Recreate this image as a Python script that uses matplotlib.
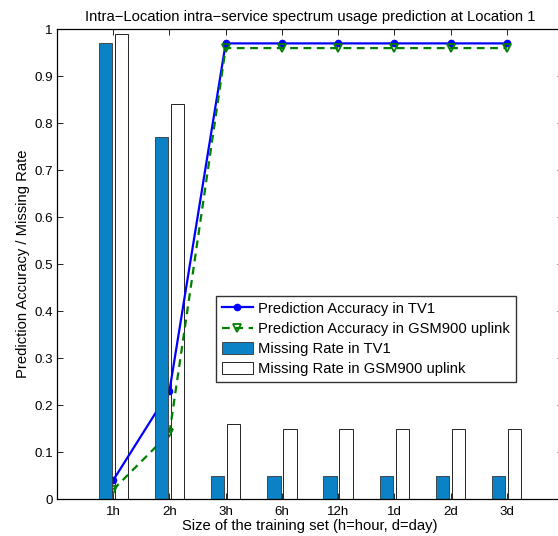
import matplotlib
matplotlib.use("Agg")
import matplotlib.pyplot as plt
import numpy as np

plt.rcParams['font.family'] = ['Liberation Sans', 'DejaVu Sans']

categories = ['1h', '2h', '3h', '6h', '12h', '1d', '2d', '3d']
acc_tv1 = [0.04, 0.23, 0.97, 0.97, 0.97, 0.97, 0.97, 0.97]
acc_gsm = [0.02, 0.14, 0.96, 0.96, 0.96, 0.96, 0.96, 0.96]
miss_tv1 = [0.97, 0.77, 0.05, 0.05, 0.05, 0.05, 0.05, 0.05]
miss_gsm = [0.99, 0.84, 0.16, 0.15, 0.15, 0.15, 0.15, 0.15]
yticks = [0, 0.1, 0.2, 0.3, 0.4, 0.5, 0.6, 0.7, 0.8, 0.9, 1]
ytick_labels = ['0', '0.1', '0.2', '0.3', '0.4', '0.5', '0.6', '0.7', '0.8', '0.9', '1']

FS = 10.6
TFS = 9.6
W, H = 558, 536
fig = plt.figure(figsize=(W / 100, H / 100), dpi=100)
left, right, top, bottom = 57, 563, 29.3, 499
ax = fig.add_axes([left / W, (H - bottom) / H, (right - left) / W, (bottom - top) / H])

x = np.arange(1, len(categories) + 1)
bw = 0.238
off = 0.142

b2 = ax.bar(x + off, miss_gsm, width=bw, color='white', edgecolor='black',
            linewidth=0.6, zorder=1, label='Missing Rate in GSM900 uplink')
l1, = ax.plot(x, acc_tv1, '-', color='#0000ff', lw=1.6, marker='o', ms=4.5,
              mfc='#0000ff', mec='#0000ff', zorder=2, label='Prediction Accuracy in TV1')
l2, = ax.plot(x, acc_gsm, '--', color='#008000', lw=1.6, marker='v', ms=5.5,
              mfc='none', mec='#008000', mew=1.3, dashes=(3.5, 2.5), zorder=2,
              label='Prediction Accuracy in GSM900 uplink')
b1 = ax.bar(x - off, miss_tv1, width=bw, color='#0b82c6', edgecolor='#333333',
            linewidth=0.6, zorder=3, label='Missing Rate in TV1')

ax.set_xlim(0, 9)
ax.set_ylim(0, 1)
ax.set_xticks(x)
ax.set_xticklabels(categories)
ax.set_yticks(yticks)
ax.set_yticklabels(ytick_labels)
ax.tick_params(direction='in', length=4, width=0.6, top=True, right=True,
               labelsize=TFS, colors='black')
ax.tick_params(axis='x', pad=5)
ax.tick_params(axis='y', pad=3)
for s in ax.spines.values():
    s.set_linewidth(0.9)
    s.set_zorder(5)

ax.set_title('Intra\u2212Location intra\u2212service spectrum usage prediction at Location 1',
             fontsize=FS, pad=6)
ax.set_xlabel('Size of the training set (h=hour, d=day)', fontsize=FS, labelpad=1)
ax.set_ylabel('Prediction Accuracy / Missing Rate', fontsize=FS, labelpad=3)

leg = ax.legend(handles=[l1, l2, b1, b2], loc='upper left',
                bbox_to_anchor=((216 - left) / (right - left), (bottom - 296) / (bottom - top)),
                borderaxespad=0, fontsize=FS, frameon=True, fancybox=False,
                handlelength=2.1, handleheight=0.9, handletextpad=0.35,
                labelspacing=0.4, borderpad=0.4, edgecolor='black')
leg.get_frame().set_linewidth(1.0)
leg.set_zorder(10)

fig.savefig('out.png', dpi=100)
